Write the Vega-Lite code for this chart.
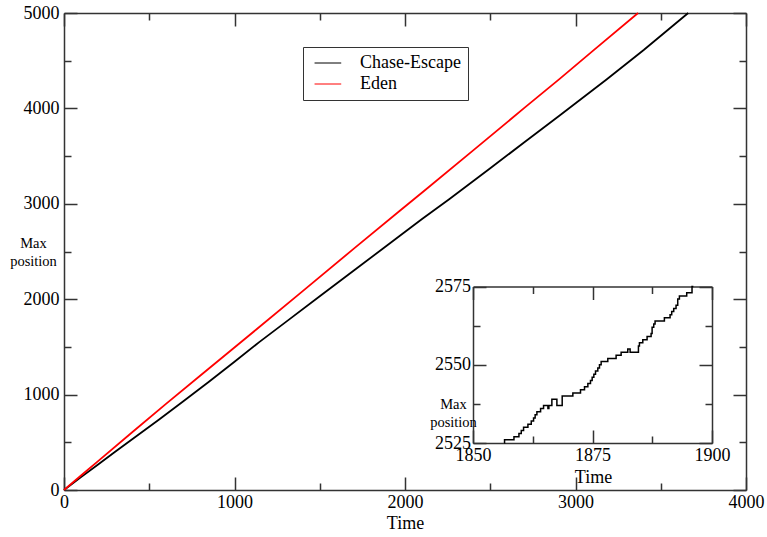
{
  "$schema": "https://vega.github.io/schema/vega-lite/v6.json",
  "width": 682,
  "height": 477,
  "autosize": {"type": "none"},
  "padding": {"left": 64, "top": 13, "right": 21, "bottom": 47},
  "background": "white",
  "config": {
    "view": {"stroke": null},
    "font": "Liberation Serif",
    "axis": {
      "grid": false,
      "domainColor": "#333",
      "domainWidth": 1.5,
      "tickColor": "#333",
      "tickWidth": 1.5,
      "labelFont": "Liberation Serif",
      "labelFontSize": 18,
      "labelColor": "#000",
      "titleFont": "Liberation Serif",
      "titleFontWeight": "normal",
      "titleColor": "#000"
    }
  },
  "datasets": {
    "main": [
      {"series": "Chase-Escape", "time": 0, "pos": 0},
      {"series": "Chase-Escape", "time": 100, "pos": 135},
      {"series": "Chase-Escape", "time": 200, "pos": 268},
      {"series": "Chase-Escape", "time": 300, "pos": 400},
      {"series": "Chase-Escape", "time": 400, "pos": 532},
      {"series": "Chase-Escape", "time": 558, "pos": 740},
      {"series": "Chase-Escape", "time": 700, "pos": 930},
      {"series": "Chase-Escape", "time": 850, "pos": 1135},
      {"series": "Chase-Escape", "time": 1000, "pos": 1345},
      {"series": "Chase-Escape", "time": 1145, "pos": 1550},
      {"series": "Chase-Escape", "time": 1300, "pos": 1760},
      {"series": "Chase-Escape", "time": 1500, "pos": 2030},
      {"series": "Chase-Escape", "time": 1700, "pos": 2300},
      {"series": "Chase-Escape", "time": 1875, "pos": 2537},
      {"series": "Chase-Escape", "time": 1968, "pos": 2662},
      {"series": "Chase-Escape", "time": 2100, "pos": 2840},
      {"series": "Chase-Escape", "time": 2261, "pos": 3050},
      {"series": "Chase-Escape", "time": 2500, "pos": 3372},
      {"series": "Chase-Escape", "time": 2700, "pos": 3645},
      {"series": "Chase-Escape", "time": 2907, "pos": 3925},
      {"series": "Chase-Escape", "time": 3182, "pos": 4303},
      {"series": "Chase-Escape", "time": 3400, "pos": 4612},
      {"series": "Chase-Escape", "time": 3661, "pos": 5000},
      {"series": "Eden", "time": 0, "pos": 0},
      {"series": "Eden", "time": 100, "pos": 152},
      {"series": "Eden", "time": 200, "pos": 303},
      {"series": "Eden", "time": 400, "pos": 605},
      {"series": "Eden", "time": 600, "pos": 905},
      {"series": "Eden", "time": 800, "pos": 1200},
      {"series": "Eden", "time": 989, "pos": 1478},
      {"series": "Eden", "time": 1126, "pos": 1680},
      {"series": "Eden", "time": 1400, "pos": 2085},
      {"series": "Eden", "time": 1700, "pos": 2530},
      {"series": "Eden", "time": 1968, "pos": 2925},
      {"series": "Eden", "time": 2124, "pos": 3152},
      {"series": "Eden", "time": 2400, "pos": 3560},
      {"series": "Eden", "time": 2700, "pos": 4005},
      {"series": "Eden", "time": 2907, "pos": 4310},
      {"series": "Eden", "time": 3100, "pos": 4600},
      {"series": "Eden", "time": 3367, "pos": 5000}
    ],
    "inset": [
      {"t": 1856.55, "v": 2525}, {"t": 1856.6, "v": 2526}, {"t": 1858.57, "v": 2527},
      {"t": 1859.61, "v": 2528}, {"t": 1860.1, "v": 2529}, {"t": 1860.58, "v": 2530},
      {"t": 1861.49, "v": 2531}, {"t": 1862.19, "v": 2532}, {"t": 1862.67, "v": 2533},
      {"t": 1863.0, "v": 2534}, {"t": 1863.37, "v": 2535}, {"t": 1864.14, "v": 2536},
      {"t": 1864.76, "v": 2537}, {"t": 1865.67, "v": 2536}, {"t": 1865.88, "v": 2537},
      {"t": 1866.5, "v": 2539}, {"t": 1867.55, "v": 2537}, {"t": 1868.66, "v": 2540},
      {"t": 1870.89, "v": 2541}, {"t": 1872.49, "v": 2542}, {"t": 1873.33, "v": 2543},
      {"t": 1874.03, "v": 2544}, {"t": 1874.58, "v": 2545}, {"t": 1874.93, "v": 2546},
      {"t": 1875.28, "v": 2547}, {"t": 1875.63, "v": 2548}, {"t": 1876.11, "v": 2549},
      {"t": 1876.46, "v": 2550}, {"t": 1876.81, "v": 2551}, {"t": 1878.2, "v": 2552},
      {"t": 1879.94, "v": 2553}, {"t": 1880.99, "v": 2554}, {"t": 1882.38, "v": 2555},
      {"t": 1882.87, "v": 2554}, {"t": 1884.61, "v": 2556}, {"t": 1884.82, "v": 2557},
      {"t": 1885.52, "v": 2558}, {"t": 1886.42, "v": 2559}, {"t": 1887.26, "v": 2560},
      {"t": 1887.47, "v": 2562}, {"t": 1887.81, "v": 2563}, {"t": 1888.09, "v": 2564},
      {"t": 1890.04, "v": 2565}, {"t": 1891.23, "v": 2566}, {"t": 1891.57, "v": 2567},
      {"t": 1891.99, "v": 2568}, {"t": 1892.48, "v": 2569}, {"t": 1892.83, "v": 2571},
      {"t": 1893.18, "v": 2572}, {"t": 1894.71, "v": 2573}, {"t": 1895.82, "v": 2575},
      {"t": 1896.1, "v": 2575}
    ]
  },
  "layer": [
    {
      "data": {"name": "main"},
      "mark": {"type": "line", "strokeWidth": 1.8},
      "encoding": {
        "x": {
          "field": "time", "type": "quantitative",
          "scale": {"domain": [0, 4000], "nice": false},
          "axis": {
            "orient": "bottom",
            "values": [0, 500, 1000, 1500, 2000, 2500, 3000, 3500, 4000],
            "format": "d",
            "labelExpr": "datum.value % 1000 === 0 ? datum.label : ''",
            "tickSize": {"condition": {"test": "datum.value % 1000 === 0", "value": -13}, "value": -7},
            "labelPadding": 16,
            "labelFlush": false,
            "labelOverlap": false,
            "title": "Time",
            "titleFontSize": 18,
            "titleX": 341,
            "titleY": 24,
            "titleAlign": "center",
            "titleBaseline": "top"
          }
        },
        "y": {
          "field": "pos", "type": "quantitative",
          "scale": {"domain": [0, 5000], "nice": false},
          "axis": {
            "orient": "left",
            "values": [0, 500, 1000, 1500, 2000, 2500, 3000, 3500, 4000, 4500, 5000],
            "format": "d",
            "labelExpr": "datum.value % 1000 === 0 ? datum.label : ''",
            "tickSize": {"condition": {"test": "datum.value % 1000 === 0", "value": -13}, "value": -7},
            "labelPadding": 18,
            "labelFlush": false,
            "labelOverlap": false,
            "title": ["Max", "position"],
            "titleFontSize": 14.5,
            "titleLineHeight": 18.3,
            "titleAngle": 0,
            "titleX": -31,
            "titleY": 230,
            "titleAlign": "center",
            "titleBaseline": "middle"
          }
        },
        "color": {
          "field": "series", "type": "nominal",
          "scale": {"domain": ["Chase-Escape", "Eden"], "range": ["#000000", "#ff0000"]},
          "legend": {
            "orient": "none",
            "legendX": 239,
            "legendY": 34,
            "title": null,
            "symbolType": "M-1,0H5",
            "symbolSize": 79,
            "symbolStrokeWidth": 1,
            "labelFont": "Liberation Serif",
            "labelFontSize": 18,
            "labelColor": "#000",
            "labelOffset": 32,
            "padding": 7,
            "rowPadding": 3,
            "strokeColor": "#333",
            "fillColor": "white"
          }
        }
      }
    },
    {
      "data": {"name": "main"},
      "mark": {"type": "line", "opacity": 0},
      "encoding": {
        "x": {
          "field": "time", "type": "quantitative",
          "scale": {"domain": [0, 4000], "nice": false},
          "axis": {
            "orient": "top",
            "values": [0, 500, 1000, 1500, 2000, 2500, 3000, 3500, 4000],
            "labels": false,
            "tickSize": {"condition": {"test": "datum.value % 1000 === 0", "value": -13}, "value": -7},
            "title": null
          }
        },
        "y": {
          "field": "pos", "type": "quantitative",
          "scale": {"domain": [0, 5000], "nice": false},
          "axis": {
            "orient": "right",
            "values": [0, 500, 1000, 1500, 2000, 2500, 3000, 3500, 4000, 4500, 5000],
            "labels": false,
            "tickSize": {"condition": {"test": "datum.value % 1000 === 0", "value": -13}, "value": -7},
            "title": null
          }
        },
        "detail": {"field": "series", "type": "nominal"}
      }
    },
    {
      "data": {"name": "inset"},
      "mark": {"type": "line", "interpolate": "step-after", "color": "#000", "strokeWidth": 1.5},
      "encoding": {
        "x": {
          "field": "t", "type": "quantitative",
          "scale": {"domain": [1850, 1900], "range": [409, 648], "nice": false, "zero": false},
          "axis": {
            "orient": "bottom",
            "offset": -47,
            "values": [1850, 1862.5, 1875, 1887.5, 1900],
            "format": "d",
            "labelExpr": "datum.value % 25 === 0 ? datum.label : ''",
            "tickSize": {"condition": {"test": "datum.value % 25 === 0", "value": -13}, "value": -7},
            "labelPadding": 16,
            "labelFlush": false,
            "labelOverlap": false,
            "title": "Time",
            "titleFontSize": 18,
            "titleX": 529,
            "titleY": 25,
            "titleAlign": "center",
            "titleBaseline": "top"
          }
        },
        "y": {
          "field": "v", "type": "quantitative",
          "scale": {"domain": [2525, 2575], "range": [430, 273.5], "nice": false, "zero": false},
          "axis": {
            "orient": "left",
            "offset": -409,
            "values": [2525, 2537.5, 2550, 2562.5, 2575],
            "format": "d",
            "labelExpr": "(datum.value - 2525) % 25 === 0 ? datum.label : ''",
            "tickSize": {"condition": {"test": "(datum.value - 2525) % 25 === 0", "value": -13}, "value": -7},
            "labelPadding": 15.5,
            "labelFlush": false,
            "labelOverlap": false,
            "title": ["Max", "position"],
            "titleFontSize": 14.5,
            "titleLineHeight": 18.3,
            "titleAngle": 0,
            "titleX": -20,
            "titleY": 391,
            "titleAlign": "center",
            "titleBaseline": "middle"
          }
        }
      }
    },
    {
      "data": {"name": "inset"},
      "mark": {"type": "line", "opacity": 0},
      "encoding": {
        "x": {
          "field": "t", "type": "quantitative",
          "scale": {"domain": [1850, 1900], "range": [409, 648], "nice": false, "zero": false},
          "axis": {
            "orient": "top",
            "offset": -273.5,
            "values": [1850, 1862.5, 1875, 1887.5, 1900],
            "labels": false,
            "tickSize": {"condition": {"test": "datum.value % 25 === 0", "value": -13}, "value": -7},
            "title": null
          }
        },
        "y": {
          "field": "v", "type": "quantitative",
          "scale": {"domain": [2525, 2575], "range": [430, 273.5], "nice": false, "zero": false},
          "axis": {
            "orient": "right",
            "offset": -34,
            "values": [2525, 2537.5, 2550, 2562.5, 2575],
            "labels": false,
            "tickSize": {"condition": {"test": "(datum.value - 2525) % 25 === 0", "value": -13}, "value": -7},
            "title": null
          }
        }
      }
    }
  ],
  "resolve": {
    "scale": {"x": "independent", "y": "independent"},
    "axis": {"x": "independent", "y": "independent"}
  }
}
